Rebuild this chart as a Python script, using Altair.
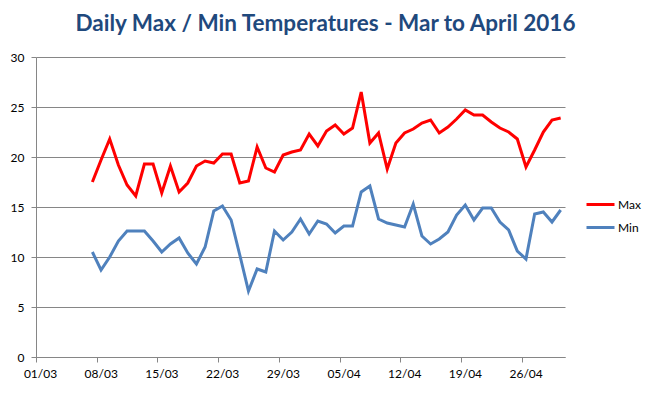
import altair as alt
import pandas as pd

start_date = "2016-03-07"
n_days = 55

max_temps = [17.5, 19.7, 21.8, 19.2, 17.2, 16.1, 19.3, 19.3, 16.4, 19.1,
             16.5, 17.4, 19.1, 19.6, 19.4, 20.3, 20.3, 17.4, 17.6, 21.0,
             18.9, 18.5, 20.2, 20.5, 20.7, 22.3, 21.1, 22.6, 23.2, 22.3,
             22.9, 26.5, 21.4, 22.4, 18.8, 21.4, 22.4, 22.8, 23.4, 23.7,
             22.4, 23.0, 23.8, 24.7, 24.2, 24.2, 23.5, 22.9, 22.5, 21.8,
             19.0, 20.7, 22.5, 23.7, 23.9]

min_temps = [10.5, 8.7, 10.0, 11.6, 12.6, 12.6, 12.6, 11.6, 10.5, 11.3,
             11.9, 10.4, 9.3, 11.0, 14.6, 15.1, 13.7, 10.2, 6.6, 8.8,
             8.5, 12.6, 11.7, 12.5, 13.8, 12.3, 13.6, 13.3, 12.4, 13.1,
             13.1, 16.5, 17.1, 13.8, 13.4, 13.2, 13.0, 15.3, 12.1, 11.3,
             11.8, 12.5, 14.2, 15.2, 13.7, 14.9, 14.9, 13.5, 12.7, 10.6,
             9.8, 14.3, 14.5, 13.5, 14.7]

series_names = ["Max", "Min"]
series_colors = ["#FF0000", "#4F81BD"]
tick_dates = ["2016-03-01", "2016-03-08", "2016-03-15", "2016-03-22", "2016-03-29",
              "2016-04-05", "2016-04-12", "2016-04-19", "2016-04-26"]
y_ticks = [0, 5, 10, 15, 20, 25, 30]

# Excel "between tick marks": each day's point sits in the middle of its day band
dates = pd.date_range(start_date, periods=n_days) + pd.Timedelta(hours=12)
df = pd.concat([
    pd.DataFrame({"date": dates.strftime("%Y-%m-%dT%H:%M:%S"), "temp": max_temps, "series": "Max"}),
    pd.DataFrame({"date": dates.strftime("%Y-%m-%dT%H:%M:%S"), "temp": min_temps, "series": "Min"}),
])

def dt(s):
    y, m, d = (int(p) for p in s.split("-"))
    return alt.DateTime(year=y, month=m, date=d)

chart = alt.Chart(df).mark_line(strokeWidth=3).encode(
    x=alt.X("date:T",
            scale=alt.Scale(domain=[dt("2016-03-01"), dt("2016-05-01")]),
            axis=alt.Axis(values=[dt(s) for s in tick_dates], format="%d/%m",
                          title=None, grid=False, labelOffset=4, labelFlush=False,
                          tickSize=5, labelPadding=6)),
    y=alt.Y("temp:Q",
            scale=alt.Scale(domain=[0, 30], nice=False),
            axis=alt.Axis(values=y_ticks, title=None, grid=True, tickSize=5,
                          labelPadding=7)),
    color=alt.Color("series:N",
                    scale=alt.Scale(domain=series_names, range=series_colors),
                    legend=alt.Legend(title=None, orient="none", legendX=549, legendY=132,
                                      symbolType="stroke", symbolSize=784,
                                      symbolStrokeWidth=3, labelOffset=2,
                                      rowPadding=1, padding=0)),
).properties(
    width=529,
    height=300,
    title=alt.TitleParams("Daily Max / Min Temperatures - Mar to April 2016",
                          font="Lato", fontSize=22.5, fontWeight="bold", color="#1F497D",
                          anchor="middle", frame="group", dx=25, offset=0, dy=2,
                          baseline="alphabetic"),
    autosize=alt.AutoSizeParams(type="none"),
    padding={"left": 28, "top": 49, "right": 78, "bottom": 28},
).configure_axis(
    domainColor="#868686", tickColor="#868686", gridColor="#868686",
    gridOpacity=1, labelFont="Lato", labelFontSize=12, labelColor="#000000",
).configure_legend(
    labelFont="Lato", labelFontSize=12, labelColor="#000000",
).configure_view(stroke=None)

chart.save("out.html", embed_options={"renderer": "svg", "actions": False})
